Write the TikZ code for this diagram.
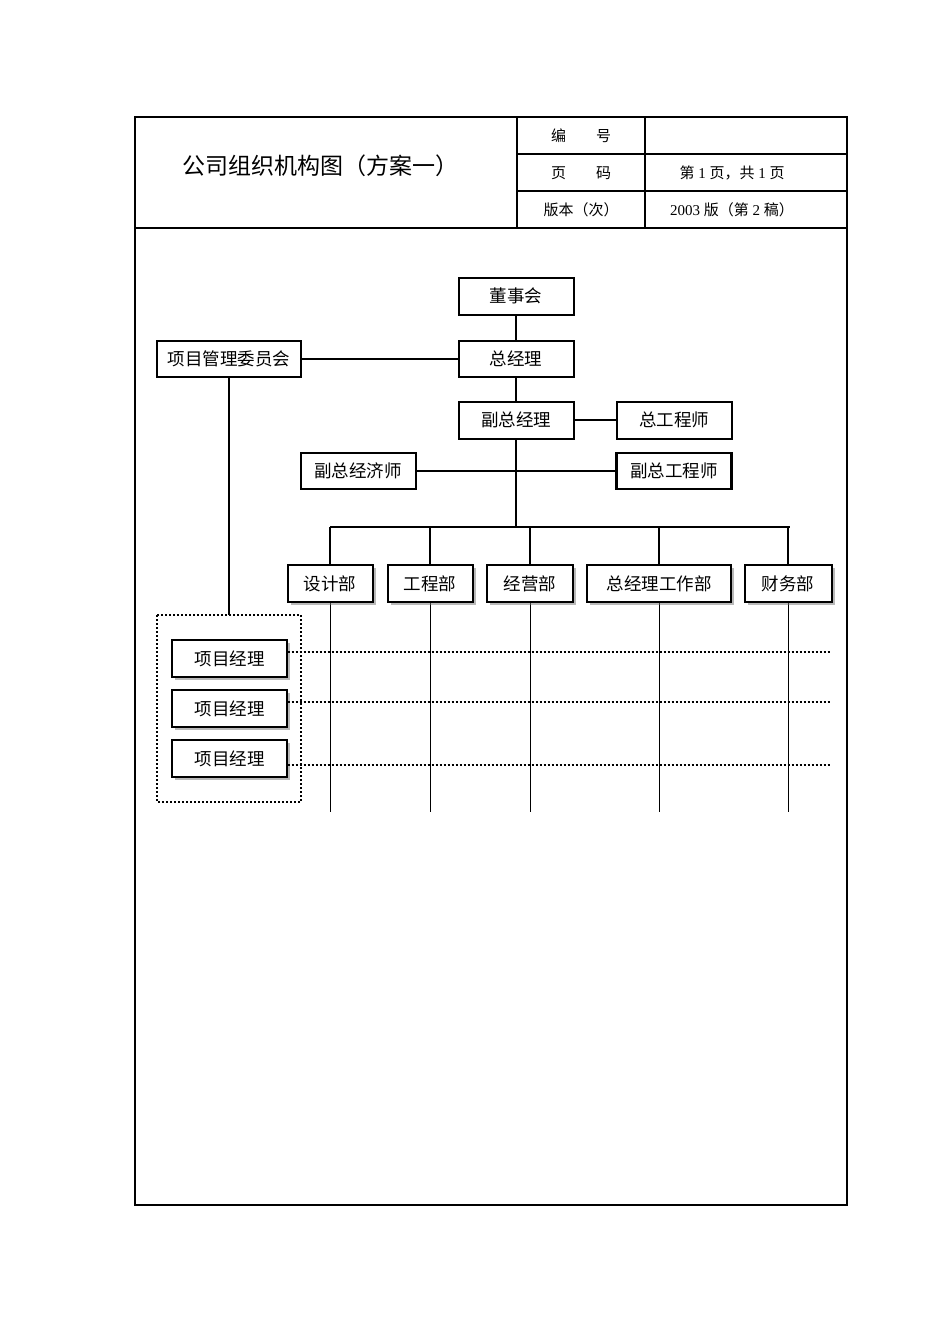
\documentclass[tikz,border=0pt]{standalone}
\usepackage{fontspec}
\usetikzlibrary{shadows}
\setmainfont{Liberation Serif}
\newfontfamily\cjk{Noto Sans CJK SC}
\begin{document}
\begin{tikzpicture}[x=1pt,y=-1pt,
 bx/.style={draw,line width=2pt,fill=white,font=\cjk\fontsize{17.5}{17.5}\selectfont,inner sep=0pt},
 sh/.style={bx,drop shadow={shadow xshift=3pt,shadow yshift=-3pt,fill=black!55}},
 ln/.style={line width=2pt},
 thin/.style={line width=1pt},
 dot/.style={line width=2pt,dotted},
 hd/.style={font=\cjk\fontsize{15}{15}\selectfont}]
\useasboundingbox (0,0) rectangle (950,1344);
\draw[line width=1.1pt] (135,117) rectangle (847,1205);
\draw[line width=1.1pt] (135,228) -- (847,228) (517,117) -- (517,228) (645,117) -- (645,228)
 (517,154) -- (847,154) (517,191) -- (847,191);
\node[font=\cjk\fontsize{23}{23}\selectfont] (title) at (320,166) {公司组织机构图（方案一）};
\node[hd] (h1) at (581,136) {编\quad\quad 号};
\node[hd] (h2) at (581,173) {页\quad\quad 码};
\node[hd] (h3) at (581,210) {版本（次）};
\node[hd] (h4) at (732,173) {第{\rmfamily\ 1\ }页，共{\rmfamily\ 1\ }页};
\node[hd] (h5) at (732,210) {{\rmfamily 2003\ }版（第{\rmfamily\ 2\ }稿）};
\node[bx,minimum width=115pt,minimum height=37pt] (dsh) at (516,296) {董事会};
\node[bx,minimum width=115pt,minimum height=36pt] (zjl) at (516,359) {总经理};
\node[bx,minimum width=144pt,minimum height=36pt] (xm) at (229,359) {项目管理委员会};
\node[bx,minimum width=115pt,minimum height=37pt] (fzjl) at (516,420) {副总经理};
\node[bx,minimum width=115pt,minimum height=37pt] (zgcs) at (674,420) {总工程师};
\node[bx,minimum width=115pt,minimum height=36pt] (fjjs) at (358,471) {副总经济师};
\node[bx,line width=2.8pt,minimum width=115pt,minimum height=36pt] (fgcs) at (674,471) {副总工程师};
\draw[ln] (dsh) -- (zjl) (zjl) -- (xm) (zjl) -- (fzjl) (fzjl) -- (zgcs);
\draw[ln] (fjjs) -- (fgcs);
\coordinate (busc) at (516,527);
\draw[ln] (fzjl.south) -- (busc);
\draw[ln] (330,527) -- (790,527);
\foreach \n/\x/\w/\t in {d1/330/85/设计部,d2/430/85/工程部,d3/530/86/经营部,d4/659/144/总经理工作部,d5/788/87/财务部}{
 \draw[thin] (\x,602) -- (\x,812);
 \draw[ln] (\x,527) -- (\x,565);
 \node[sh,minimum width=\w pt,minimum height=37pt] (\n) at (\x,583.5) {\t};
}
\coordinate (dtop) at (229,615);
\draw[ln] (xm.south) -- (dtop);
\draw[dot] (157,615) rectangle (301,802);
\foreach \n/\y in {p1/658.5,p2/708.5,p3/758.5}{
 \node[sh,line width=1.4pt,minimum width=115pt,minimum height=37pt] (\n) at (229.5,\y) {项目经理};
}
\draw[dot] (p1.east) ++(0,-6.5) -- (831,652);
\draw[dot] (p2.east) ++(0,-6.5) -- (831,702);
\draw[dot] (p3.east) ++(0,6.5) -- (831,765);
\end{tikzpicture}
\end{document}
